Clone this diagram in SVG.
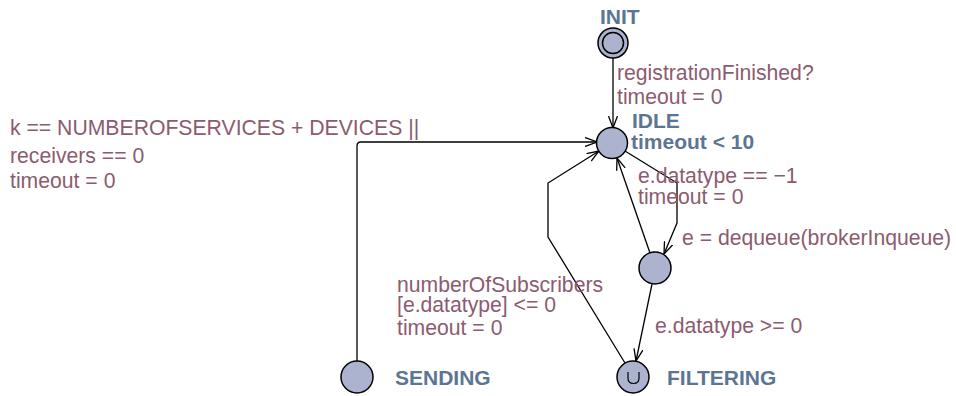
<svg xmlns="http://www.w3.org/2000/svg" width="956" height="396" viewBox="0 0 956 396">
<defs>
<style>
.node{fill:#abb3ce;stroke:#000;stroke-width:1.5}
.edge{fill:none;stroke:#000;stroke-width:1.3}
.lbl{font-family:"Liberation Sans",Arial,sans-serif;font-size:21.2px;fill:#8c5b70}
.name{font-family:"Liberation Sans",Arial,sans-serif;font-size:21px;font-weight:bold;fill:#5b7693}
</style>
<marker id="arr" viewBox="0 0 12 10" refX="12" refY="5" markerWidth="12" markerHeight="10" markerUnits="userSpaceOnUse" orient="auto">
<path d="M0,0.5 L12,5 L0,9.5" fill="none" stroke="#000" stroke-width="1.3"/>
</marker>
</defs>
<rect width="956" height="396" fill="#fff"/>
<g id="connectors">
<path class="edge" d="M613,58 L613,128" marker-end="url(#arr)"/>
<path class="edge" d="M357,361 L357,146 Q357,142 361,142 L597,142" marker-end="url(#arr)"/>
<path class="edge" d="M625,151 L677,183 L677,223 L664,254" marker-end="url(#arr)"/>
<path class="edge" d="M650,253 L617,158" marker-end="url(#arr)"/>
<path class="edge" d="M652,284 L636,361" marker-end="url(#arr)"/>
<path class="edge" d="M625,363 L548,237 L548,183 L599,151" marker-end="url(#arr)"/>
</g>
<g id="INIT">
<circle class="node" cx="613" cy="43" r="15"/>
<circle cx="613" cy="43" r="10.5" fill="none" stroke="#000" stroke-width="1.5"/>
<text class="name" x="600" y="24">INIT</text>
</g>
<g id="IDLE">
<circle class="node" cx="612" cy="143" r="15.5"/>
<text class="name" x="632" y="128">IDLE</text>
<text class="name" x="631" y="149">timeout &lt; 10</text>
</g>
<g id="MIDDLE">
<circle class="node" cx="655" cy="268" r="16"/>
</g>
<g id="FILTERING">
<circle class="node" cx="633" cy="377" r="16"/>
<path d="M628,372 L628,378 Q628,383.5 633.5,383.5 Q639,383.5 639,378 L639,372" fill="none" stroke="#000" stroke-width="1.2"/>
<text class="name" x="667" y="385">FILTERING</text>
</g>
<g id="SENDING">
<circle class="node" cx="357" cy="377" r="16"/>
<text class="name" x="395" y="385">SENDING</text>
</g>
<g id="labels">
<text class="lbl" x="617" y="80">registrationFinished?</text>
<text class="lbl" x="617" y="104">timeout = 0</text>
<text class="lbl" x="638" y="183">e.datatype == −1</text>
<text class="lbl" x="638" y="204">timeout = 0</text>
<text class="lbl" x="682" y="245">e = dequeue(brokerInqueue)</text>
<text class="lbl" x="655" y="333">e.datatype &gt;= 0</text>
<text class="lbl" x="397" y="292">numberOfSubscribers</text>
<text class="lbl" x="397" y="312">[e.datatype] &lt;= 0</text>
<text class="lbl" x="397" y="335">timeout = 0</text>
<text class="lbl" x="10" y="135">k == NUMBEROFSERVICES + DEVICES ||</text>
<text class="lbl" x="10" y="163">receivers == 0</text>
<text class="lbl" x="10" y="188">timeout = 0</text>
</g>
</svg>
